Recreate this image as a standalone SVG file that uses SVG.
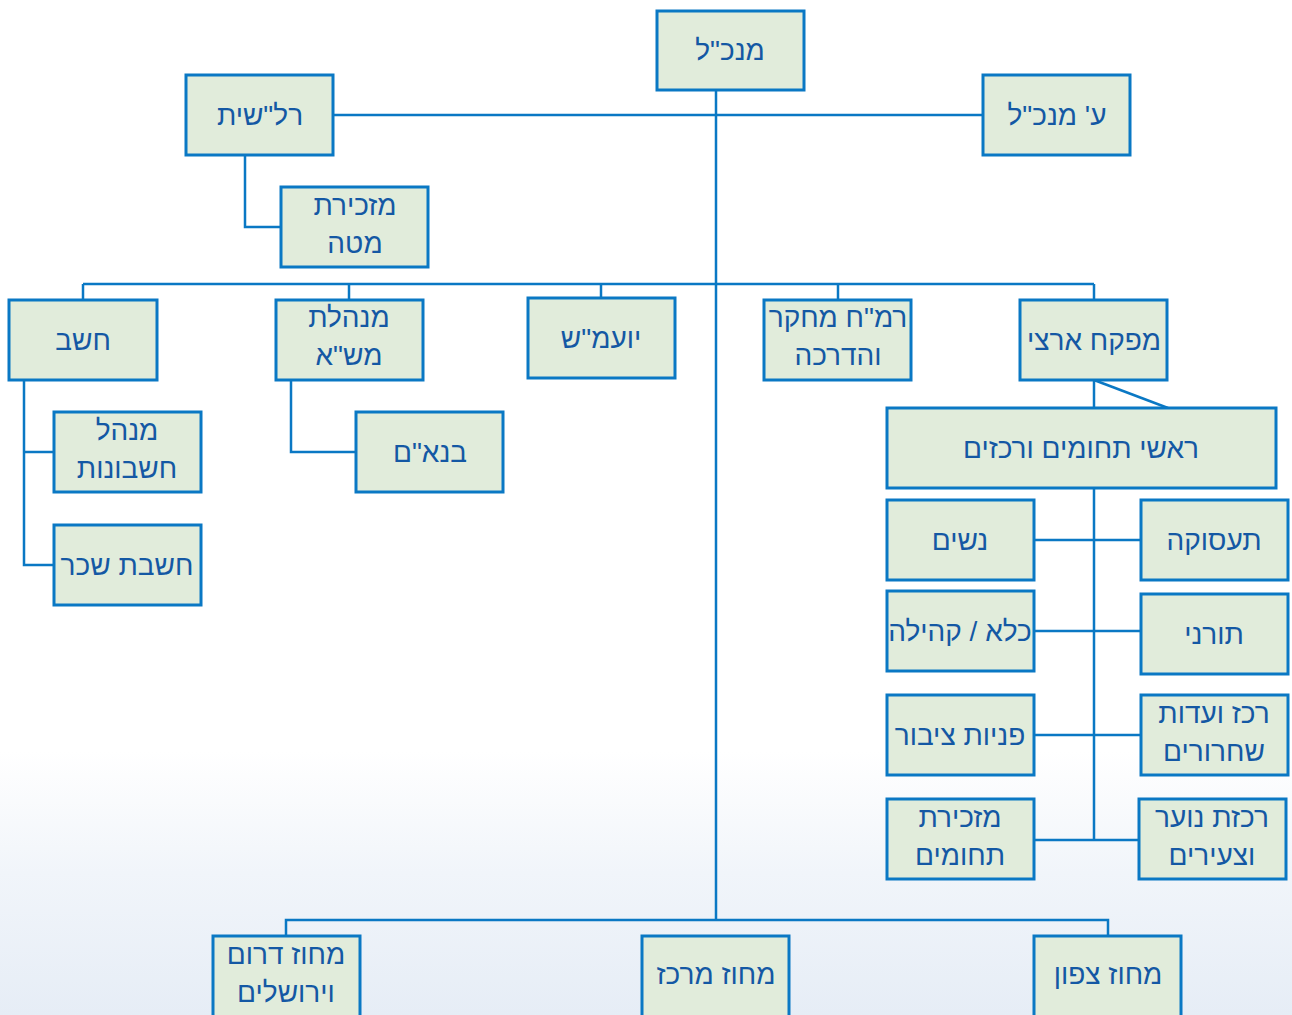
<svg xmlns="http://www.w3.org/2000/svg" width="1292" height="1015" viewBox="0 0 1292 1015">
<defs>
<linearGradient id="bg" x1="0" y1="0" x2="0" y2="1">
<stop offset="0" stop-color="#ffffff"/>
<stop offset="0.74" stop-color="#ffffff"/>
<stop offset="0.86" stop-color="#f1f5fa"/>
<stop offset="1" stop-color="#e6edf6"/>
</linearGradient>
<style>
.b rect{fill:#e1ecdb;stroke:#0a78c4;stroke-width:3}
.b text{font-family:"Liberation Sans","DejaVu Sans",sans-serif;font-size:28px;fill:#1458a4;text-anchor:middle;direction:rtl}
.c{stroke:#0a78c4;stroke-width:2.5;fill:none}
</style>
</defs>
<rect x="0" y="0" width="1292" height="1015" fill="url(#bg)"/>
<g id="connectors" class="c">
<line x1="716" y1="90" x2="716" y2="920"/>
<line x1="333" y1="115" x2="983" y2="115"/>
<polyline points="245,155 245,227 281,227"/>
<line x1="83" y1="284" x2="1094" y2="284"/>
<line x1="83" y1="284" x2="83" y2="300"/>
<line x1="349" y1="284" x2="349" y2="300"/>
<line x1="601" y1="284" x2="601" y2="298"/>
<line x1="838" y1="284" x2="838" y2="300"/>
<line x1="1094" y1="284" x2="1094" y2="300"/>
<polyline points="24,380 24,565 54,565"/>
<line x1="24" y1="452" x2="54" y2="452"/>
<polyline points="291,380 291,452 356,452"/>
<line x1="1094" y1="380" x2="1094" y2="408"/>
<line x1="1094" y1="380" x2="1168" y2="408"/>
<line x1="1094" y1="488" x2="1094" y2="840"/>
<line x1="1034" y1="540" x2="1141" y2="540"/>
<line x1="1034" y1="631" x2="1141" y2="631"/>
<line x1="1034" y1="735" x2="1141" y2="735"/>
<line x1="1034" y1="840" x2="1139" y2="840"/>
<polyline points="286,936 286,920 1108,920 1108,936"/>
</g>
<g id="n-mankal" class="b"><rect x="657" y="11" width="147" height="79"/><text x="730" y="60">מנכ"ל</text></g>
<g id="n-ralshit" class="b"><rect x="186" y="75" width="147" height="80"/><text x="260" y="125">רל"שית</text></g>
<g id="n-smankal" class="b"><rect x="983" y="75" width="147" height="80"/><text x="1057" y="125">ע' מנכ"ל</text></g>
<g id="n-mazkirut-mate" class="b"><rect x="281" y="187" width="147" height="80"/><text x="355" y="215">מזכירת</text><text x="355" y="253">מטה</text></g>
<g id="n-hashav" class="b"><rect x="9" y="300" width="148" height="80"/><text x="83" y="350">חשב</text></g>
<g id="n-mashA" class="b"><rect x="276" y="300" width="147" height="80"/><text x="349" y="327">מנהלת</text><text x="349" y="365">מש"א</text></g>
<g id="n-yoamash" class="b"><rect x="528" y="298" width="147" height="80"/><text x="601" y="348">יועמ"ש</text></g>
<g id="n-ramah" class="b"><rect x="764" y="300" width="147" height="80"/><text x="838" y="327">רמ"ח מחקר</text><text x="838" y="365">והדרכה</text></g>
<g id="n-mefake" class="b"><rect x="1020" y="300" width="147" height="80"/><text x="1094" y="350">מפקח ארצי</text></g>
<g id="n-menahel" class="b"><rect x="54" y="412" width="147" height="80"/><text x="127" y="440">מנהל</text><text x="127" y="478">חשבונות</text></g>
<g id="n-hashvat" class="b"><rect x="54" y="525" width="147" height="80"/><text x="127" y="575">חשבת שכר</text></g>
<g id="n-banam" class="b"><rect x="356" y="412" width="147" height="80"/><text x="430" y="462">בנא"ם</text></g>
<g id="n-rashei" class="b"><rect x="887" y="408" width="389" height="80"/><text x="1081" y="458">ראשי תחומים ורכזים</text></g>
<g id="n-nashim" class="b"><rect x="887" y="500" width="147" height="80"/><text x="960" y="550">נשים</text></g>
<g id="n-kele" class="b"><rect x="887" y="591" width="147" height="80"/><text x="960" y="641">כלא / קהילה</text></g>
<g id="n-pniot" class="b"><rect x="887" y="695" width="147" height="80"/><text x="960" y="745">פניות ציבור</text></g>
<g id="n-mazkirut-thumim" class="b"><rect x="887" y="799" width="147" height="80"/><text x="960" y="827">מזכירת</text><text x="960" y="865">תחומים</text></g>
<g id="n-tasuka" class="b"><rect x="1141" y="500" width="147" height="80"/><text x="1214" y="550">תעסוקה</text></g>
<g id="n-torani" class="b"><rect x="1141" y="594" width="147" height="80"/><text x="1214" y="644">תורני</text></g>
<g id="n-vaadot" class="b"><rect x="1141" y="695" width="147" height="80"/><text x="1214" y="723">רכז ועדות</text><text x="1214" y="761">שחרורים</text></g>
<g id="n-noar" class="b"><rect x="1139" y="799" width="147" height="80"/><text x="1212" y="827">רכזת נוער</text><text x="1212" y="865">וצעירים</text></g>
<g id="n-darom" class="b"><rect x="213" y="936" width="147" height="82"/><text x="286" y="964">מחוז דרום</text><text x="286" y="1002">וירושלים</text></g>
<g id="n-merkaz" class="b"><rect x="642" y="936" width="147" height="82"/><text x="716" y="984">מחוז מרכז</text></g>
<g id="n-tzafon" class="b"><rect x="1034" y="936" width="147" height="82"/><text x="1108" y="984">מחוז צפון</text></g>
</svg>
